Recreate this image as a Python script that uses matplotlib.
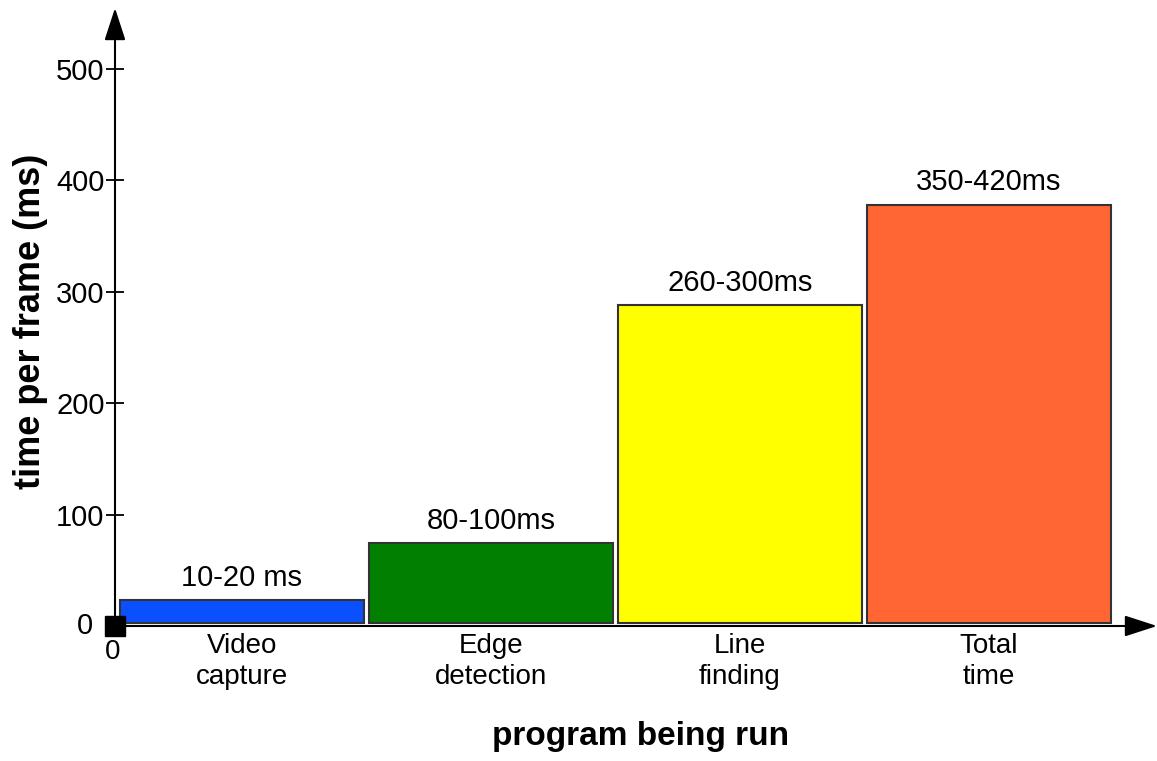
import matplotlib.pyplot as plt
import numpy as np

plt.rcParams['font.family'] = ['Liberation Sans', 'DejaVu Sans']

# data
stages = ['Video\ncapture', 'Edge\ndetection', 'Line\nfinding', 'Total\ntime']
times = [23, 74, 288, 378]
time_labels = ['10-20 ms', '80-100ms', '260-300ms', '350-420ms']
colors = ['#0a50ff', '#007f00', '#ffff00', '#ff6633']
yticks = [0, 100, 200, 300, 400, 500]

W, H = 1157, 761
fig = plt.figure(figsize=(W / 100, H / 100), dpi=100)
# axes origin at pixel (115, 626), top at y=8, right at x=1157
ax = fig.add_axes([115 / W, (H - 626) / H, (W - 115) / W, (626 - 8) / H])

ymax = (626 - 8) / 1.115
xmax = (W - 115) / 248.0
ax.set_xlim(0, xmax)
ax.set_ylim(0, ymax)

base = 3
x = np.arange(len(times)) * 1.004 + 0.512
ax.bar(x, np.array(times) - base, width=0.985, bottom=base,
       color=colors, edgecolor='#333333', linewidth=1.5, zorder=2)

for xi, t, lab in zip(x, times, time_labels):
    ax.annotate(lab, (xi, t), xytext=(0, 6), textcoords='offset points',
                ha='center', va='bottom', fontsize=21)

for s in ax.spines.values():
    s.set_visible(False)

# axes drawn as arrows
arrow = dict(arrowstyle='-|>,head_length=2.0,head_width=0.65',
             color='black', lw=1.5, mutation_scale=10,
             shrinkA=0, shrinkB=0)
ax.annotate('', xy=(0, 1), xycoords='axes fraction', xytext=(0, 0),
            arrowprops=arrow, annotation_clip=False)
ax.annotate('', xy=(1, 0), xycoords='axes fraction', xytext=(0, 0),
            arrowprops=arrow, annotation_clip=False)

ax.set_yticks(yticks)
ax.set_yticklabels([''] + [str(v) for v in yticks[1:]])
ax.tick_params(axis='y', direction='inout', length=13, width=1.3,
               labelsize=21, pad=1)
ax.set_xticks(x)
ax.set_xticklabels(stages, fontsize=20, linespacing=1.25)
ax.tick_params(axis='x', length=0, pad=5)

# origin marker and its labels
ax.plot([0], [0], marker='s', markersize=15, color='black',
        clip_on=False, zorder=5)
ax.annotate('0', (0, 0), xytext=(-16, 0), textcoords='offset points',
            ha='right', va='center', fontsize=21, annotation_clip=False)
ax.annotate('0', (0, 0), xytext=(-2, -19), textcoords='offset points',
            ha='center', va='center', fontsize=20, annotation_clip=False)

fig.text(641 / W, 1 - 737 / H, 'program being run', ha='center',
         va='center', fontsize=24, fontweight='bold')
fig.text(31 / W, 1 - 321 / H, 'time per frame (ms)', ha='center',
         va='center', rotation=90, fontsize=26, fontweight='bold')

fig.savefig('out.png', dpi=100)
